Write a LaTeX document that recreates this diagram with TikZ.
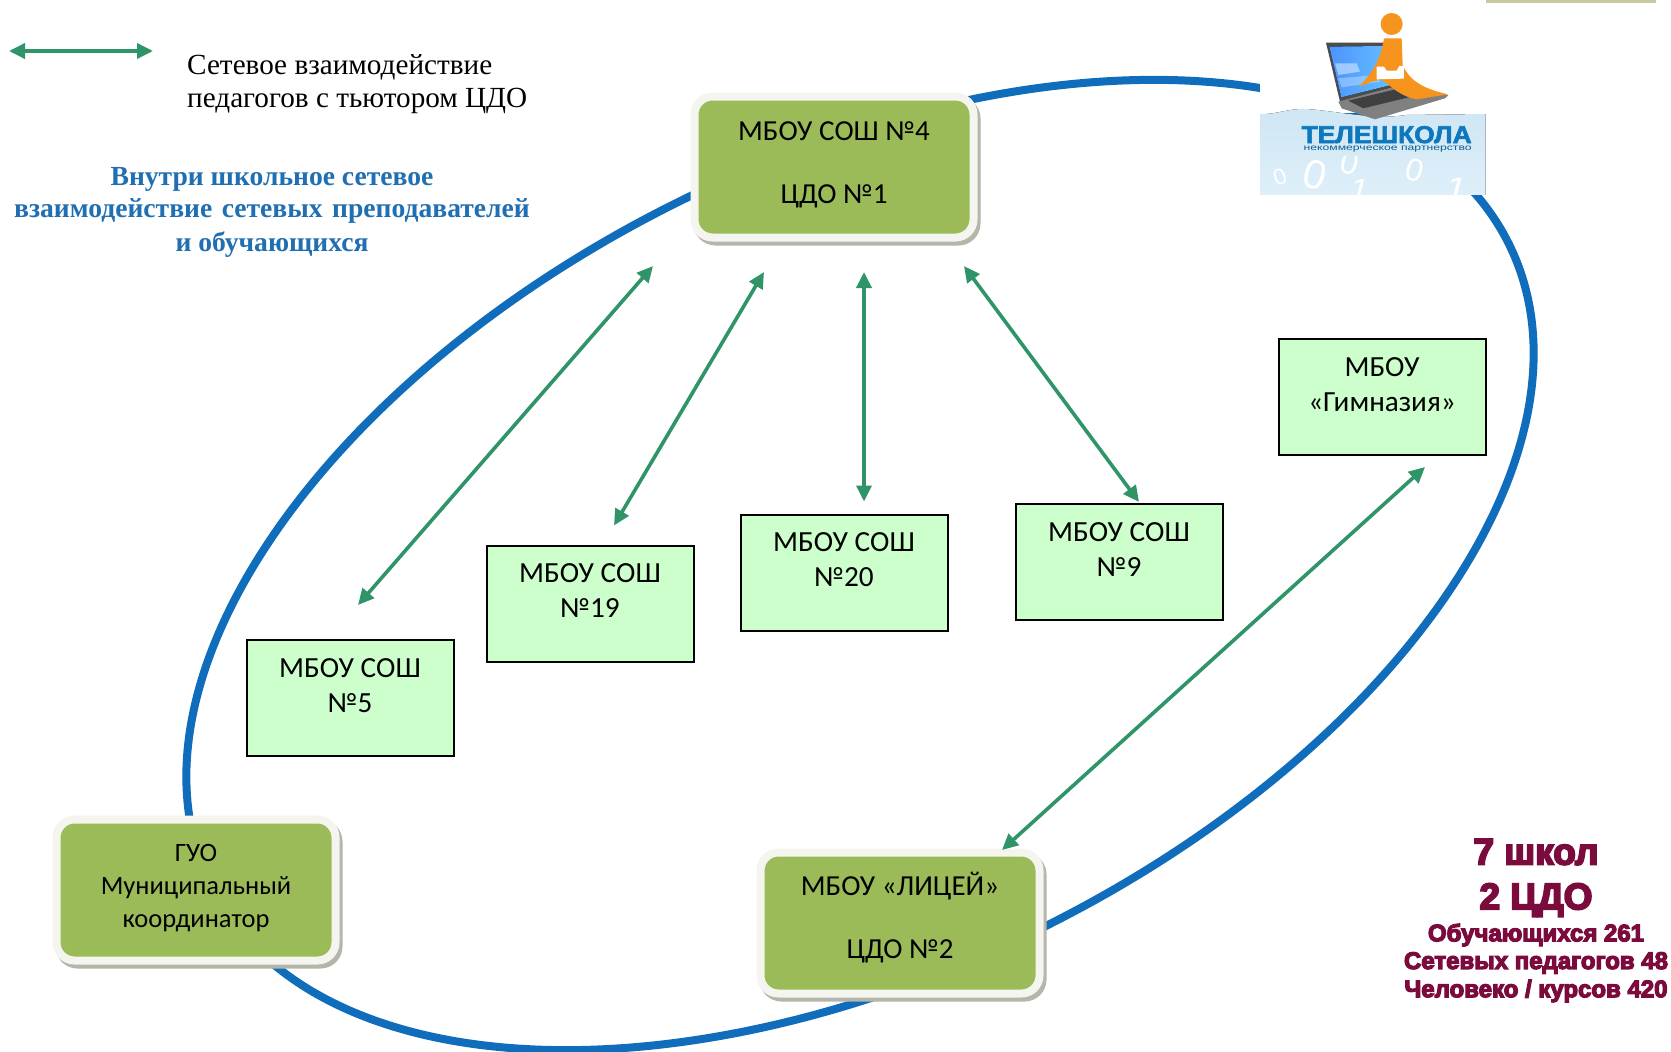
\documentclass[tikz,border=0pt]{standalone}
\usepackage{fontspec}
\usepackage{graphicx}
\usetikzlibrary{arrows.meta,shadows}
\setmainfont{Liberation Serif}
\newfontfamily\crl{Carlito}
\newfontfamily\hvy{Liberation Sans}[UprightFont=* Bold,FakeBold=5]
\newfontfamily\lsb{Liberation Sans}[UprightFont=* Bold,FakeBold=2.5]
\newfontfamily\lsr{Liberation Sans}
\definecolor{ringblue}{HTML}{0F6DBB}
\definecolor{arrgreen}{HTML}{2F9468}
\definecolor{oliv}{HTML}{9BBB59}
\definecolor{mint}{HTML}{CCFFCC}
\definecolor{frm}{HTML}{F5F5EF}
\definecolor{shd}{HTML}{B5B5AA}
\definecolor{legblue}{HTML}{1F6FB2}
\definecolor{statred}{HTML}{7A0B3C}
\definecolor{logobgtop}{HTML}{CFE6F4}
\definecolor{logobgbot}{HTML}{DEEFF9}
\definecolor{logoblue}{HTML}{0E78BE}
\definecolor{tanbar}{HTML}{C9C9A0}
\definecolor{figor}{HTML}{F7941E}
\newcommand{\ttx}[4]{\raisebox{#1}[0pt][0pt]{\fontsize{#2}{#3}\selectfont\begin{tabular}{@{}c@{}}#4\end{tabular}}}
\tikzset{
  mintbox/.style={draw=black,line width=2pt,fill=mint,minimum width=207pt,minimum height=116pt,inner sep=0pt,outer sep=0pt,font=\crl},
  olivbox/.style={draw=frm,line width=8pt,fill=oliv,minimum width=279pt,minimum height=141pt,rounded corners=18pt,inner sep=0pt,outer sep=0pt,font=\crl,
    general shadow={shadow xshift=3pt,shadow yshift=-4pt,draw=shd,line width=8pt,fill=shd}},
  link/.style={draw=arrgreen,line width=3.6pt,{Triangle[length=16pt,width=15pt]}-{Triangle[length=16pt,width=15pt]}},
  ring/.style={draw=ringblue,line width=8pt},
  stat/.style={text=statred,inner sep=0pt},
  legendblack/.style={anchor=west,inner sep=0pt,font=\fontsize{29.2}{34}\selectfont},
  legendblue/.style={text=legblue,inner sep=0pt,font=\bfseries\fontsize{27.6}{33}\selectfont},
}
\begin{document}
\begin{tikzpicture}[x=1pt,y=-1pt]
\useasboundingbox (0,0) rectangle (1671,1052);
\fill[white] (0,0) rectangle (1671,1052);
% ring
\draw[ring,rotate around={26.3:(860,565)}] (860,565) ellipse [x radius=724pt,y radius=406pt];
% logo
\fill[white] (1260,60) rectangle (1486,113);
\fill[tanbar] (1486,0) rectangle (1656,3);
\begin{scope}[shift={(1200,0)},x=0.3333pt,y=-0.3333pt]
  \fill[top color=logobgtop,bottom color=logobgbot] (180,342) .. controls (230,345) and (270,322) .. (330,328) .. controls (420,335) and (520,360) .. (620,345) -- (857,342) -- (857,585) -- (180,585) -- cycle;
  \begin{scope}
    \clip (180,470) rectangle (857,585);
    \foreach \dx/\dy/\ds/\dr/\dt [evaluate=\ds as \dz using \ds/2.2] in {240/530/50/20/0, 345/525/90/-15/0, 450/490/70/-15/0, 645/510/70/-15/0, 480/572/70/-15/1, 770/570/80/-15/1}
      \node[text=white,inner sep=0pt,font=\lsr\fontsize{\dz}{\dz}\selectfont,rotate=\dr] at (\dx,\dy) {\dt};
  \end{scope}
  % laptop
  \fill[black!70] (378,128) -- (560,128) -- (595,258) -- (420,305) -- cycle;
  \fill[left color=blue!60!cyan!70,right color=cyan!60!blue!60] (388,140) -- (552,138) -- (585,252) -- (424,292) -- cycle;
  \fill[white,opacity=.45] (405,190) -- (470,190) -- (480,215) -- (415,225) -- cycle;
  \fill[white,opacity=.3] (415,235) -- (530,225) -- (540,245) -- (425,262) -- cycle;
  \fill[black!50] (415,305) -- (595,258) -- (745,285) -- (735,295) -- (525,358) -- (425,325) -- cycle;
  \fill[black!75] (445,302) -- (600,265) -- (655,285) -- (490,325) -- cycle;
  % figure
  \fill[figor] (552,115) -- (605,115) -- (608,195) .. controls (625,235) and (660,265) .. (745,283) -- (650,298) .. controls (600,290) and (570,255) .. (545,240) .. controls (520,240) and (490,255) .. (475,262) .. controls (510,225) and (540,190) .. (552,115) -- cycle;
  \fill[figor] (575,72) circle [radius=11pt];
  \fill[white] (530,200) -- (552,200) -- (560,212) -- (590,212) -- (598,198) -- (612,198) -- (612,236) -- (530,238) -- cycle;
  % names
  \node[text=logoblue,inner sep=0pt,font=\lsb] (logoname) at (560,404) {\resizebox{170pt}{17pt}{ТЕЛЕШКОЛА}};
  \node[text=logoblue!80!black,inner sep=0pt,font=\lsr] (logosub) at (563,447) {\resizebox{168pt}{4.5pt}{некоммерческое партнерство}};
\end{scope}
% legend
\coordinate (legA) at (9,51);
\coordinate (legB) at (153,51);
\draw[link] (legA) -- (legB);
\node[legendblack] (leg1) at (187,67) {Сетевое взаимодействие};
\node[legendblack] (leg2) at (187,101) {педагогов с тьютором ЦДО};
\node[legendblue] (note1) at (272,179) {Внутри школьное сетевое};
\node[legendblue] (note2) at (272,211) {взаимодействие\hspace{9.5pt}сетевых\hspace{9.5pt}преподавателей};
\node[legendblue] (note3) at (272,245) {и обучающихся};
% school boxes
\node[mintbox] (s5) at (350,698) {\ttx{4pt}{29.2}{35}{МБОУ СОШ\\ №5}};
\node[mintbox] (s19) at (590,603.5) {\ttx{4pt}{29.2}{35}{МБОУ СОШ\\ №19}};
\node[mintbox] (s20) at (844,572.5) {\ttx{4pt}{29.2}{35}{МБОУ СОШ\\ №20}};
\node[mintbox] (s9) at (1119,562) {\ttx{4pt}{29.2}{35}{МБОУ СОШ\\ №9}};
\node[mintbox] (gym) at (1382,397) {\ttx{4pt}{29.2}{35}{МБОУ\\ «Гимназия»}};
% green boxes
\node[olivbox] (n4) at (834,167) {\ttx{1pt}{29}{63}{МБОУ СОШ №4\\ ЦДО №1}};
\node[olivbox] (guo) at (196,890) {\ttx{-4pt}{26.5}{33}{ГУО\\ Муниципальный\\ координатор}\hspace{4pt}};
\node[olivbox] (lyc) at (900,923) {\ttx{2pt}{29}{63}{МБОУ «ЛИЦЕЙ»\\ ЦДО №2}};
% connectors
\draw[link] ([shift={(-181,28.5)}]n4.south) -- ([shift={(8,-35)}]s5.north);
\draw[link] ([shift={(-70,34.5)}]n4.south) -- ([shift={(24,-20)}]s19.north);
\draw[link] ([shift={(30,34.5)}]n4.south) -- ([shift={(20,-13)}]s20.north);
\draw[link] ([shift={(130,28.5)}]n4.south) -- ([shift={(20,-2)}]s9.north);
\draw[link] ([shift={(43,12)}]gym.south) -- ([shift={(102,-2.5)}]lyc.north);
% statistics
\node[stat,font=\hvy\fontsize{37}{40}\selectfont] (t1) at (1536,852) {7 школ};
\node[stat,font=\hvy\fontsize{37}{40}\selectfont] (t2) at (1536,900) {2 ЦДО};
\node[stat,font=\hvy\fontsize{24}{28}\selectfont] (t3) at (1536,935) {Обучающихся 261};
\node[stat,font=\hvy\fontsize{24}{28}\selectfont] (t4) at (1536,963) {Сетевых педагогов 48};
\node[stat,font=\hvy\fontsize{24}{28}\selectfont] (t5) at (1536,991) {Человеко / курсов 420};
\end{tikzpicture}
\end{document}
